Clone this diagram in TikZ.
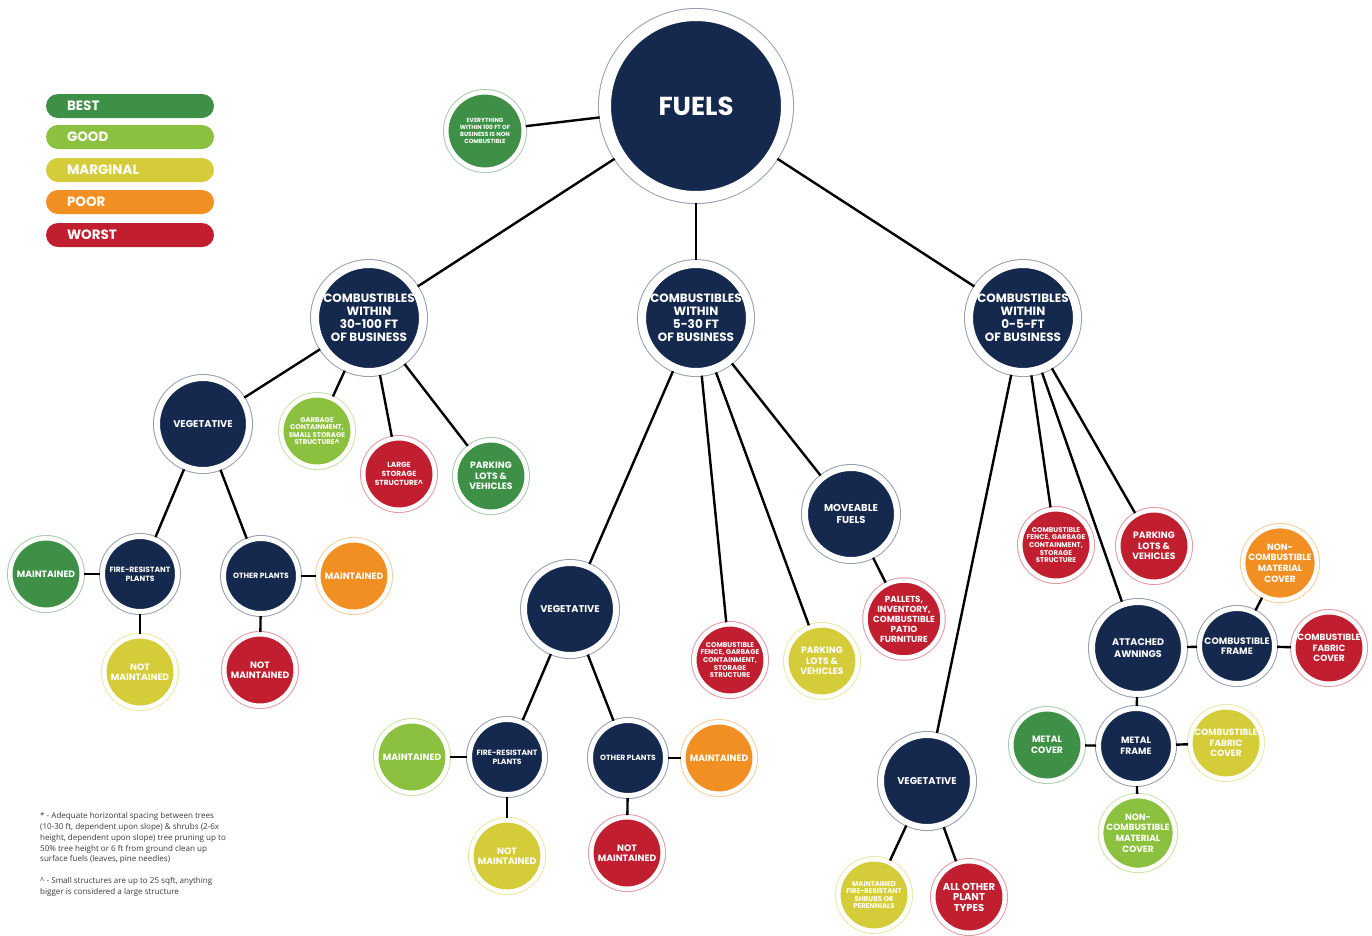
\documentclass[tikz,border=0pt]{standalone}
\usepackage{fontspec}
\newfontfamily\pop{Poppins}
\newfontfamily\notefont{Open Sans}
\newcommand\fsz[2]{\fontsize{#1}{#2}\selectfont}

\definecolor{navy}{HTML}{15294F}
\definecolor{best}{HTML}{3E9046}
\definecolor{good}{HTML}{8CC13F}
\definecolor{marginal}{HTML}{D4CC39}
\definecolor{poor}{HTML}{F28F22}
\definecolor{worst}{HTML}{C11F30}
\definecolor{notegray}{HTML}{3A3A3A}

\tikzset{
  bubble/.style={circle, inner sep=0pt, align=center, text=white, draw=white, font=\pop\bfseries},
  % sizes: white ring plus a thin tinted outer edge
  huge/.style={bubble, minimum size=182pt, line width=12pt, preaction={draw=tintc, line width=14pt}},
  big/.style={bubble, minimum size=108pt, line width=8pt, preaction={draw=tintc, line width=10pt}},
  mid/.style={bubble, minimum size=92pt, line width=6pt, preaction={draw=tintc, line width=8pt}},
  frp/.style={bubble, minimum size=75pt, line width=5pt, preaction={draw=tintc, line width=7pt}},
  sml/.style={bubble, minimum size=71.5pt, line width=4.5pt, preaction={draw=tintc, line width=6.5pt}},
  evr/.style={bubble, minimum size=77.5pt, line width=4.5pt, preaction={draw=tintc, line width=6.5pt}},
  % rating colours
  cnavy/.style={fill=navy, /utils/exec={\colorlet{tintc}{navy!45!white}}},
  cbest/.style={fill=best, /utils/exec={\colorlet{tintc}{best!45!white}}},
  cgood/.style={fill=good, /utils/exec={\colorlet{tintc}{good!45!white}}},
  cmarg/.style={fill=marginal, /utils/exec={\colorlet{tintc}{marginal!45!white}}},
  cpoor/.style={fill=poor, /utils/exec={\colorlet{tintc}{poor!45!white}}},
  cworst/.style={fill=worst, /utils/exec={\colorlet{tintc}{worst!45!white}}},
  pill/.style={rectangle, rounded corners=12pt, minimum width=168pt, minimum height=24pt,
    inner xsep=21pt, text width=126pt, align=left, text=white, font=\pop\bfseries\fsz{13.5}{15}},
  link/.style={line width=2.4pt, black},
  ftxt/.style={font=\pop\bfseries\fsz{9.2}{10.5}},
  fcov/.style={font=\pop\bfseries\fsz{9}{10.7}},
  fveg/.style={font=\pop\bfseries\fsz{9.8}{11.5}},
  fplant/.style={font=\pop\bfseries\fsz{7.6}{9}},
  ftiny/.style={font=\pop\bfseries\fsz{6.9}{7.6}},
}

\begin{document}
\begin{tikzpicture}[x=1pt, y=-1pt]
\fill[white] (0,0) rectangle (1372,935);
\path[use as bounding box] (0,0) rectangle (1372,935);

% legend
\node[pill, fill=best]     (lbest) at (130,106) {BEST};
\node[pill, fill=good]     (lgood) at (130,137) {GOOD};
\node[pill, fill=marginal] (lmarg) at (130,170) {MARGINAL};
\node[pill, fill=poor]     (lpoor) at (130,202) {POOR};
\node[pill, fill=worst]    (lworst) at (130,235) {WORST};

% root and the three distance bands
\node[huge, cnavy, font=\pop\bfseries\fsz{26}{30}] (fuels) at (696,106) {FUELS};
\node[evr, cbest, font=\pop\bfseries\fsz{5.9}{7}] (every) at (485,131)
  {EVERYTHING\\WITHIN 100 FT OF\\BUSINESS IS NON\\COMBUSTIBLE};
\node[big, cnavy, font=\pop\bfseries\fsz{12}{13}] (far) at (369,318)
  {COMBUSTIBLES\\WITHIN\\30-100 FT\\OF BUSINESS};
\node[big, cnavy, font=\pop\bfseries\fsz{12}{13}] (midd) at (696,318)
  {COMBUSTIBLES\\WITHIN\\5-30 FT\\OF BUSINESS};
\node[big, cnavy, font=\pop\bfseries\fsz{12}{13}] (near) at (1023,318)
  {COMBUSTIBLES\\WITHIN\\0-5-FT\\OF BUSINESS};

% 30-100 ft branch
\node[mid, cnavy, fveg] (vegA) at (203,424) {VEGETATIVE};
\node[sml, cgood, ftiny] (garb) at (317,431)
  {GARBAGE\\CONTAINMENT,\\SMALL STORAGE\\STRUCTURE\textasciicircum};
\node[sml, cworst, font=\pop\bfseries\fsz{7.4}{8.8}] (large) at (399,474)
  {LARGE\\STORAGE\\STRUCTURE\textasciicircum};
\node[sml, cbest, ftxt] (parkA) at (491,476) {PARKING\\LOTS \&\\VEHICLES};
\node[frp, cnavy, fplant] (frpA) at (140,574) {FIRE-RESISTANT\\PLANTS};
\node[sml, cbest, ftxt] (maintA) at (46,574) {MAINTAINED};
\node[sml, cmarg, ftxt] (notA) at (140,672) {NOT\\MAINTAINED};
\node[frp, cnavy, fplant] (othA) at (261,576) {OTHER PLANTS};
\node[sml, cpoor, ftxt] (maintA2) at (354,576) {MAINTAINED};
\node[sml, cworst, ftxt] (notA2) at (260,670) {NOT\\MAINTAINED};

% 5-30 ft branch
\node[mid, cnavy, fveg] (vegB) at (570,609) {VEGETATIVE};
\node[mid, cnavy, font=\pop\bfseries\fsz{10}{11.5}] (move) at (851,514) {MOVEABLE\\FUELS};
\node[sml, cworst, font=\pop\bfseries\fsz{8.8}{10}] (pall) at (904,619)
  {PALLETS,\\INVENTORY,\\COMBUSTIBLE\\PATIO\\FURNITURE};
\node[sml, cworst, ftiny] (fenceB) at (730,660)
  {COMBUSTIBLE\\FENCE, GARBAGE\\CONTAINMENT,\\STORAGE\\STRUCTURE};
\node[sml, cmarg, ftxt] (parkB) at (822,661) {PARKING\\LOTS \&\\VEHICLES};
\node[frp, cnavy, fplant] (frpB) at (507,757) {FIRE-RESISTANT\\PLANTS};
\node[sml, cgood, ftxt] (maintB) at (412,757) {MAINTAINED};
\node[sml, cmarg, ftxt] (notB) at (507,856) {NOT\\MAINTAINED};
\node[frp, cnavy, fplant] (othB) at (628,758) {OTHER PLANTS};
\node[sml, cpoor, ftxt] (maintB2) at (719,758) {MAINTAINED};
\node[sml, cworst, ftxt] (notB2) at (627,853) {NOT\\MAINTAINED};

% 0-5 ft branch
\node[sml, cworst, ftiny] (fenceC) at (1056,545)
  {COMBUSTIBLE\\FENCE, GARBAGE\\CONTAINMENT,\\STORAGE\\STRUCTURE};
\node[sml, cworst, ftxt] (parkC) at (1154,546) {PARKING\\LOTS \&\\VEHICLES};
\node[mid, cnavy, font=\pop\bfseries\fsz{9.6}{11.5}] (awn) at (1138,648) {ATTACHED\\AWNINGS};
\node[frp, cnavy, font=\pop\bfseries\fsz{9.3}{10.5}] (cframe) at (1237,646) {COMBUSTIBLE\\FRAME};
\node[sml, cpoor, fcov] (ncomO) at (1280,563)
  {NON-\\COMBUSTIBLE\\MATERIAL\\COVER};
\node[sml, cworst, fcov] (cfabR) at (1329,648)
  {COMBUSTIBLE\\FABRIC\\COVER};
\node[frp, cnavy, ftxt] (mframe) at (1136,746) {METAL\\FRAME};
\node[sml, cbest, ftxt] (mcover) at (1047,745) {METAL\\COVER};
\node[sml, cmarg, fcov] (cfabY) at (1226,743)
  {COMBUSTIBLE\\FABRIC\\COVER};
\node[sml, cgood, fcov] (ncomG) at (1138,833)
  {NON-\\COMBUSTIBLE\\MATERIAL\\COVER};
\node[mid, cnavy, fveg] (vegC) at (927,781) {VEGETATIVE};
\node[sml, cmarg, ftiny] (shrub) at (874,895)
  {MAINTAINED\\FIRE-RESISTANT\\SHRUBS OR\\PERENNIALS};
\node[sml, cworst, font=\pop\bfseries\fsz{10}{10.5}] (allo) at (969,897) {ALL OTHER\\PLANT\\TYPES};

% connectors
\draw[link] (fuels) -- (every);
\draw[link] (fuels) -- (far);
\draw[link] (fuels) -- (midd);
\draw[link] (fuels) -- (near);

\draw[link] (far) -- (vegA);
\draw[link] (far) -- (garb);
\draw[link] (far) -- (large);
\draw[link] (far) -- (parkA);
\draw[link] (vegA) -- (frpA);
\draw[link] (vegA) -- (othA);
\draw[link] (frpA) -- (maintA);
\draw[link] (frpA) -- (notA);
\draw[link] (othA) -- (maintA2);
\draw[link] (othA) -- (notA2);

\draw[link] (midd) -- (vegB);
\draw[link] (midd) -- (fenceB);
\draw[link] (midd) -- (parkB);
\draw[link] (midd) -- (move);
\draw[link] (move) -- (pall);
\draw[link] (vegB) -- (frpB);
\draw[link] (vegB) -- (othB);
\draw[link] (frpB) -- (maintB);
\draw[link] (frpB) -- (notB);
\draw[link] (othB) -- (maintB2);
\draw[link] (othB) -- (notB2);

\draw[link] (near) -- (vegC);
\draw[link] (near) -- (fenceC);
\draw[link] (near) -- (awn);
\draw[link] (near) -- (parkC);
\draw[link] (awn) -- (cframe);
\draw[link] (cframe) -- (ncomO);
\draw[link] (cframe) -- (cfabR);
\draw[link] (awn) -- (mframe);
\draw[link] (mframe) -- (mcover);
\draw[link] (mframe) -- (cfabY);
\draw[link] (mframe) -- (ncomG);
\draw[link] (vegC) -- (shrub);
\draw[link] (vegC) -- (allo);

% footnotes
\node[anchor=north west, inner sep=0pt, align=left, text=notegray,
      font=\notefont\fsz{8.05}{10.9}] (notes) at (40,812)
  {* - Adequate horizontal spacing between trees\\
   (10-30 ft, dependent upon slope) \& shrubs (2-6x\\
   height, dependent upon slope) tree pruning up to\\
   50\% tree height or 6 ft from ground clean up\\
   surface fuels (leaves, pine needles)\\[10.9pt]
   \textasciicircum{} - Small structures are up to 25 sqft, anything\\
   bigger is considered a large structure};
\end{tikzpicture}
\end{document}
